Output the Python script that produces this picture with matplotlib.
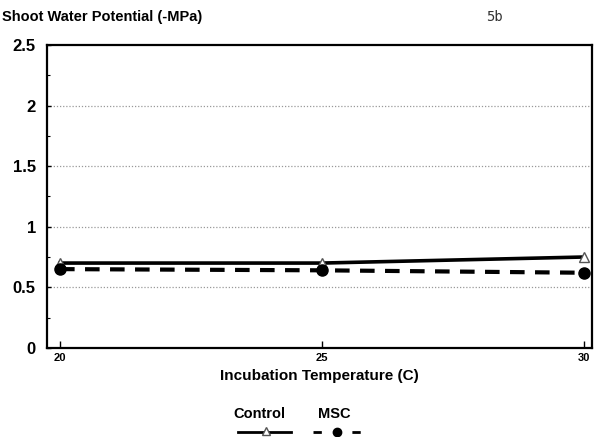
import matplotlib
matplotlib.use("Agg")
import matplotlib.pyplot as plt
from matplotlib.lines import Line2D
from matplotlib.ticker import MultipleLocator

temps = [20, 25, 30]
control = [0.70, 0.70, 0.75]
msc = [0.65, 0.64, 0.62]
yticks = [0, 0.5, 1, 1.5, 2, 2.5]
ytick_labels = ["0", "0.5", "1", "1.5", "2", "2.5"]

plt.rcParams['font.family'] = ['Liberation Sans', 'DejaVu Sans']

fig = plt.figure(figsize=(5.94, 4.37), dpi=100)
ax = fig.add_axes([0.079, 0.204, 0.918, 0.693])

ax.plot(temps, control, color='black', lw=2.6, marker='^', ms=7,
        mfc='white', mec='#555555', mew=1)
ax.plot(temps, msc, color='black', lw=3, ls=(0, (3.5, 2.5)), marker='o',
        ms=8, mfc='black', mec='black')

ax.set_xlim(19.75, 30.15)
ax.set_ylim(0, 2.5)
ax.set_xticks(temps)
ax.set_xticklabels([str(t) for t in temps], fontsize=8, fontweight='bold')
ax.set_yticks(yticks)
ax.set_yticklabels(ytick_labels, fontsize=12, fontweight='bold')
ax.yaxis.set_minor_locator(MultipleLocator(0.25))
ax.tick_params(direction='in', length=5, width=1, pad=4)
ax.tick_params(axis='y', length=3, pad=8)
ax.tick_params(axis='y', which='minor', direction='in', length=2, width=0.8)
for y in yticks[1:-1]:
    ax.axhline(y, color='#999999', lw=0.9, ls=(0, (1, 1.5)), zorder=0)
for s in ax.spines.values():
    s.set_linewidth(1.6)

ax.set_xlabel("Incubation Temperature (C)", fontsize=11, fontweight='bold', labelpad=4)
fig.text(0.004, 0.945, "Shoot Water Potential (-MPa)", fontsize=10.5,
         fontweight='bold', ha='left', va='bottom')
fig.text(0.818, 0.945, "5b", fontsize=10, family='DejaVu Sans Mono',
         color='#333333', ha='left', va='bottom')

# hand-made legend below the axes
fig.text(0.393, 0.043, "Control", fontsize=10.5, fontweight='bold', ha='left')
fig.text(0.535, 0.043, "MSC", fontsize=10.5, fontweight='bold', ha='left')
fig.add_artist(Line2D([0.40, 0.49], [0.012, 0.012], color='black', lw=2))
fig.add_artist(Line2D([0.447], [0.014], marker='^', ms=6, mfc='white',
                      mec='#555555', color='none'))
fig.add_artist(Line2D([0.527, 0.62], [0.012, 0.012], color='black', lw=2,
                      ls=(0, (3, 4))))
fig.add_artist(Line2D([0.567], [0.012], marker='o', ms=6, color='black'))

fig.savefig("out.png", dpi=100)
